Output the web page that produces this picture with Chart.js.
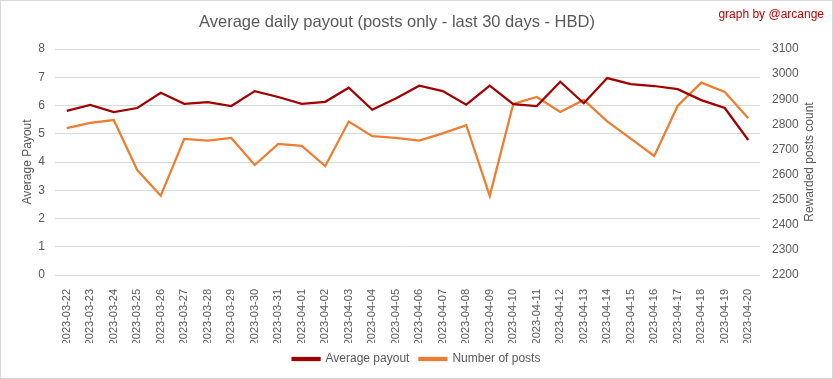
<!DOCTYPE html>
<html>
<head>
<meta charset="utf-8">
<script src="https://cdn.jsdelivr.net/npm/chart.js@4"></script>
<style>
  body { margin: 0; background: #fff; }
  #wrap { width: 833px; height: 379px; }
</style>
</head>
<body>
<div id="wrap"><canvas id="payout"></canvas></div>
<script>
// data
const days = [
  "2023-03-22", "2023-03-23", "2023-03-24", "2023-03-25", "2023-03-26", "2023-03-27",
  "2023-03-28", "2023-03-29", "2023-03-30", "2023-03-31", "2023-04-01", "2023-04-02",
  "2023-04-03", "2023-04-04", "2023-04-05", "2023-04-06", "2023-04-07", "2023-04-08",
  "2023-04-09", "2023-04-10", "2023-04-11", "2023-04-12", "2023-04-13", "2023-04-14",
  "2023-04-15", "2023-04-16", "2023-04-17", "2023-04-18", "2023-04-19", "2023-04-20"
];
const avgPayout = [
  5.81, 6.02, 5.77, 5.91, 6.45, 6.06, 6.12, 5.98, 6.51, 6.30,
  6.06, 6.13, 6.63, 5.85, 6.25, 6.70, 6.51, 6.03, 6.70, 6.05,
  5.98, 6.84, 6.08, 6.97, 6.76, 6.69, 6.58, 6.19, 5.91, 4.78
];
const postCount = [
  2785, 2806, 2817, 2618, 2516, 2742, 2735, 2746, 2638, 2722,
  2714, 2634, 2811, 2753, 2746, 2735, 2764, 2797, 2515, 2881,
  2909, 2849, 2897, 2812, 2743, 2674, 2874, 2966, 2929, 2824
];

const grey = "#595959";

// title, credit, right axis title and frame
const decor = {
  id: "decor",
  afterDraw(chart) {
    const ctx = chart.ctx;
    const area = chart.chartArea;
    ctx.save();
    ctx.strokeStyle = "#d9d9d9";
    ctx.lineWidth = 1;
    ctx.strokeRect(0.5, 0.5, 832, 378);
    ctx.textBaseline = "middle";
    ctx.fillStyle = grey;
    ctx.textAlign = "center";
    ctx.font = "16.5px 'Liberation Sans', sans-serif";
    ctx.fillText("Average daily payout (posts only - last 30 days - HBD)", 397, 22);
    ctx.fillStyle = "#c00000";
    ctx.textAlign = "right";
    ctx.font = "12px 'Liberation Sans', sans-serif";
    ctx.fillText("graph by @arcange", 824, 15);
    // right axis title reads bottom to top
    ctx.translate(810, (area.top + area.bottom) / 2);
    ctx.rotate(-Math.PI / 2);
    ctx.fillStyle = grey;
    ctx.textAlign = "center";
    ctx.fillText("Rewarded posts count", 0, 0);
    ctx.restore();
  }
};

new Chart("payout", {
  type: "line",
  data: {
    labels: days,
    datasets: [
      {
        label: "Average payout",
        data: avgPayout,
        yAxisID: "y",
        borderColor: "#a00000",
        backgroundColor: "#a00000",
        borderWidth: 2.25,
        pointRadius: 0,
        tension: 0,
      },
      {
        label: "Number of posts",
        data: postCount,
        yAxisID: "y1",
        borderColor: "#ed7d31",
        backgroundColor: "#ed7d31",
        borderWidth: 2.25,
        pointRadius: 0,
        tension: 0,
      },
    ],
  },
  options: {
    responsive: true,
    maintainAspectRatio: false,
    animation: false,
    layout: { padding: { top: 49, left: 0, right: 0, bottom: 4 } },
    plugins: {
      title: { display: false },
      tooltip: { enabled: false },
      legend: {
        position: "bottom",
        labels: {
          boxWidth: 27,
          boxHeight: 2,
          padding: 10,
          color: grey,
          font: { family: "'Liberation Sans', sans-serif", size: 12 },
        },
      },
    },
    scales: {
      x: {
        offset: true,
        grid: { display: false },
        border: { display: false },
        ticks: {
          autoSkip: false,
          maxRotation: 90,
          minRotation: 90,
          padding: 6,
          color: grey,
          font: { family: "'Liberation Sans', sans-serif", size: 11 },
        },
        afterFit(scale) { scale.height = 68; },
      },
      y: {
        position: "left",
        min: 0,
        max: 8,
        ticks: {
          stepSize: 1,
          padding: 10,
          color: grey,
          font: { family: "'Liberation Sans', sans-serif", size: 12 },
        },
        grid: { color: "#d9d9d9", drawTicks: false },
        border: { display: false },
        title: {
          display: true,
          text: "Average Payout",
          color: grey,
          padding: { top: 20, bottom: 0 },
          font: { family: "'Liberation Sans', sans-serif", size: 12 },
        },
        afterFit(scale) { scale.width = 55; },
      },
      y1: {
        position: "right",
        min: 2200,
        max: 3100,
        ticks: {
          stepSize: 100,
          padding: 12,
          color: grey,
          font: { family: "'Liberation Sans', sans-serif", size: 12 },
          callback: (v) => String(v),
        },
        grid: { display: false, drawTicks: false },
        border: { display: false },
        afterFit(scale) { scale.width = 73; },
      },
    },
  },
  plugins: [decor],
});
</script>
</body>
</html>
